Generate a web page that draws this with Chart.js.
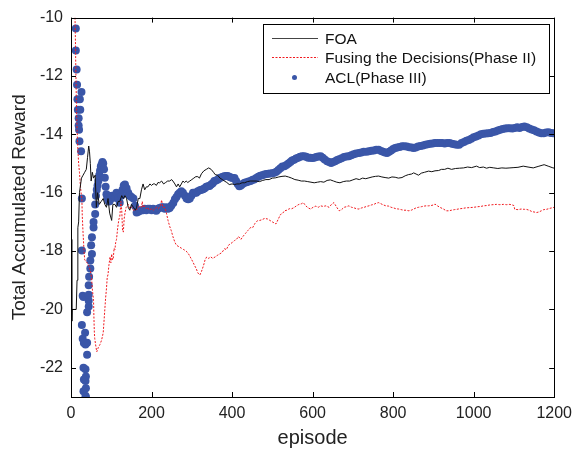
<!DOCTYPE html>
<html>
<head>
<meta charset="utf-8">
<script src="https://cdn.jsdelivr.net/npm/chart.js@4.4.0/dist/chart.umd.min.js"></script>
<style>
  html, body { margin: 0; padding: 0; background: #fff; }
</style>
</head>
<body>
<canvas id="chart" width="579" height="454"></canvas>
<script>
// --- data ---
const seriesLabels = ['FOA', 'Fusing the Decisions(Phase II)', 'ACL(Phase III)'];
const xTicks = [0, 200, 400, 600, 800, 1000, 1200];
const yTicks = [-22, -20, -18, -16, -14, -12, -10];

const foaEpisodes = [1, 2, 3, 8, 13, 15, 17, 19, 21, 23, 26, 30, 34, 38, 41, 44, 46, 48, 50, 53, 56, 60, 63, 66, 70, 75, 80, 84, 88, 92, 96, 101, 104, 109, 113, 117, 121, 126, 130, 134, 138, 142, 146, 150, 155, 160, 163, 167, 171, 175, 179, 183, 187, 191, 196, 200, 204, 208, 212, 216, 220, 225, 230, 235, 240, 245, 250, 253, 258, 262, 266, 270, 274, 278, 282, 286, 290, 295, 300, 305, 310, 315, 319, 324, 330, 336, 342, 348, 354, 358, 364, 370, 376, 381, 387, 393, 400, 406, 412, 418, 425, 431, 438, 445, 452, 460, 468, 476, 484, 492, 500, 508, 516, 524, 532, 540, 548, 556, 564, 572, 580, 588, 596, 604, 612, 620, 628, 636, 644, 652, 660, 668, 676, 684, 692, 700, 708, 716, 724, 732, 740, 748, 756, 764, 772, 780, 789, 797, 805, 813, 822, 830, 838, 846, 851, 857, 863, 870, 878, 888, 896, 904, 913, 920, 928, 936, 945, 955, 965, 975, 985, 995, 1007, 1015, 1024, 1032, 1040, 1050, 1060, 1070, 1080, 1090, 1100, 1110, 1123, 1135, 1148, 1160, 1170, 1175, 1185, 1195, 1200];
const foaValues = [-17.6, -20.4, -20.0, -20.0, -20.0, -19.0, -17.2, -17.0, -16.0, -15.8, -15.5, -15.4, -15.3, -15.2, -14.8, -14.4, -14.6, -15.0, -15.6, -15.3, -15.5, -15.4, -16.5, -16.0, -16.4, -16.3, -16.2, -16.4, -16.5, -16.2, -16.7, -16.95, -16.4, -16.4, -16.5, -16.3, -16.3, -16.1, -16.2, -16.1, -16.2, -16.5, -16.6, -16.4, -16.5, -16.6, -16.5, -16.2, -16.2, -15.9, -15.7, -15.9, -15.8, -15.8, -15.7, -15.75, -15.7, -15.7, -15.75, -15.65, -15.66, -15.6, -15.7, -15.65, -15.6, -15.6, -15.55, -15.6, -15.7, -15.8, -15.7, -15.8, -15.7, -15.6, -15.65, -15.6, -15.65, -15.6, -15.55, -15.5, -15.45, -15.45, -15.5, -15.35, -15.25, -15.2, -15.15, -15.2, -15.3, -15.38, -15.4, -15.5, -15.55, -15.6, -15.65, -15.72, -15.7, -15.72, -15.7, -15.7, -15.66, -15.66, -15.62, -15.6, -15.6, -15.6, -15.62, -15.58, -15.55, -15.55, -15.5, -15.49, -15.46, -15.44, -15.43, -15.46, -15.5, -15.55, -15.57, -15.6, -15.6, -15.62, -15.64, -15.66, -15.64, -15.62, -15.64, -15.58, -15.56, -15.6, -15.64, -15.66, -15.62, -15.6, -15.6, -15.56, -15.52, -15.55, -15.5, -15.52, -15.49, -15.46, -15.44, -15.43, -15.46, -15.48, -15.5, -15.46, -15.47, -15.5, -15.48, -15.42, -15.38, -15.36, -15.32, -15.36, -15.4, -15.33, -15.3, -15.26, -15.28, -15.25, -15.24, -15.2, -15.2, -15.16, -15.2, -15.17, -15.16, -15.15, -15.12, -15.14, -15.09, -15.14, -15.12, -15.16, -15.13, -15.15, -15.17, -15.15, -15.16, -15.15, -15.14, -15.13, -15.09, -15.12, -15.15, -15.1, -15.06, -15.04, -15.09, -15.14, -15.16];

const fusingEpisodes = [10, 11, 12, 13, 14, 15, 16, 17, 19, 21, 23, 25, 27, 28, 30, 32, 34, 37, 40, 44, 48, 51, 53, 56, 57, 58, 59, 61, 64, 68, 72, 76, 80, 84, 86, 88, 90, 92, 94, 97, 99, 101, 103, 105, 107, 109, 111, 113, 116, 119, 121, 124, 126, 128, 130, 132, 134, 137, 140, 142, 146, 150, 155, 160, 165, 170, 175, 177, 179, 182, 187, 190, 195, 200, 204, 208, 212, 216, 220, 223, 225, 228, 233, 237, 241, 245, 249, 253, 258, 262, 268, 274, 280, 286, 292, 298, 303, 307, 311, 315, 320, 324, 329, 333, 337, 342, 347, 352, 358, 363, 369, 375, 381, 386, 391, 396, 401, 406, 411, 416, 422, 427, 433, 439, 445, 451, 457, 463, 469, 475, 481, 488, 494, 500, 509, 515, 520, 526, 530, 536, 542, 548, 554, 560, 566, 572, 577, 583, 589, 595, 601, 608, 614, 620, 626, 633, 641, 647, 653, 660, 666, 672, 678, 684, 690, 697, 703, 709, 715, 722, 728, 734, 740, 746, 752, 758, 764, 770, 776, 782, 789, 795, 801, 807, 814, 820, 826, 832, 839, 845, 851, 857, 863, 870, 876, 882, 888, 894, 900, 904, 910, 916, 925, 932, 938, 945, 952, 958, 965, 972, 980, 991, 1000, 1010, 1018, 1024, 1032, 1040, 1048, 1057, 1065, 1074, 1082, 1090, 1096, 1100, 1102, 1110, 1118, 1126, 1131, 1138, 1145, 1150, 1156, 1162, 1168, 1174, 1181, 1188, 1194, 1200];
const fusingValues = [-10.0, -10.8, -11.8, -12.6, -13.3, -13.8, -14.2, -14.5, -15.0, -15.3, -15.7, -16.0, -16.2, -16.8, -17.4, -17.9, -18.3, -18.35, -18.4, -18.5, -18.66, -18.9, -19.3, -19.7, -20.3, -20.8, -21.0, -21.2, -21.45, -21.3, -21.2, -21.05, -20.8, -20.0, -19.6, -19.3, -18.9, -18.8, -18.5, -18.2, -18.4, -18.1, -18.3, -18.25, -17.9, -17.95, -17.7, -17.6, -17.2, -16.9, -16.85, -16.3, -16.6, -17.3, -17.35, -16.9, -16.7, -16.5, -16.45, -16.4, -16.55, -16.5, -16.6, -16.6, -16.55, -16.45, -16.5, -16.3, -16.5, -16.45, -16.55, -16.5, -16.6, -16.55, -16.6, -16.55, -16.5, -16.55, -16.5, -16.4, -16.25, -16.5, -16.5, -16.7, -16.95, -17.15, -17.3, -17.5, -17.7, -17.8, -17.85, -17.9, -17.95, -18.0, -18.1, -18.25, -18.38, -18.5, -18.6, -18.75, -18.82, -18.7, -18.5, -18.3, -18.2, -18.25, -18.2, -18.25, -18.2, -18.15, -18.1, -18.05, -17.92, -17.95, -17.8, -17.75, -17.7, -17.64, -17.6, -17.5, -17.6, -17.5, -17.4, -17.3, -17.2, -17.2, -17.05, -16.96, -16.95, -16.92, -16.88, -16.9, -16.95, -17.0, -17.07, -16.9, -16.75, -16.7, -16.62, -16.6, -16.55, -16.55, -16.51, -16.45, -16.4, -16.38, -16.34, -16.45, -16.52, -16.56, -16.5, -16.46, -16.5, -16.45, -16.47, -16.45, -16.5, -16.4, -16.34, -16.5, -16.62, -16.58, -16.5, -16.48, -16.45, -16.5, -16.52, -16.55, -16.56, -16.52, -16.5, -16.47, -16.45, -16.42, -16.4, -16.36, -16.34, -16.38, -16.42, -16.45, -16.46, -16.5, -16.52, -16.55, -16.56, -16.58, -16.6, -16.6, -16.62, -16.6, -16.56, -16.52, -16.5, -16.48, -16.46, -16.45, -16.45, -16.44, -16.42, -16.39, -16.45, -16.5, -16.56, -16.62, -16.62, -16.6, -16.58, -16.57, -16.55, -16.54, -16.52, -16.51, -16.5, -16.48, -16.47, -16.45, -16.44, -16.42, -16.41, -16.4, -16.41, -16.4, -16.41, -16.4, -16.42, -16.44, -16.57, -16.58, -16.56, -16.57, -16.57, -16.6, -16.65, -16.66, -16.68, -16.66, -16.62, -16.58, -16.57, -16.54, -16.52, -16.5];

const aclEpisodes = [12, 12, 14, 15, 16, 17, 19, 19, 20, 21, 22, 23, 25, 26, 27, 27, 29, 29, 31, 27, 35, 40, 36, 40, 36, 31, 36, 31, 36, 32, 37, 37, 32, 37, 40, 44, 44, 44, 44, 45, 48, 48, 52, 50, 52, 56, 56, 60, 60, 62, 64, 66, 68, 70, 72, 74, 76, 78, 80, 82, 84, 86, 88, 90, 92, 94, 96, 99, 102, 105, 109, 113, 117, 121, 125, 128, 131, 134, 138, 142, 146, 150, 155, 159, 163, 167, 171, 175, 179, 183, 187, 191, 196, 200, 204, 208, 212, 216, 220, 225, 229, 233, 237, 241, 245, 249, 254, 258, 262, 266, 270, 274, 278, 283, 287, 291, 295, 299, 303, 307, 311, 315, 320, 324, 328, 332, 336, 340, 344, 348, 352, 356, 360, 365, 369, 373, 377, 381, 385, 389, 393, 397, 401, 406, 410, 414, 418, 422, 426, 431, 436, 441, 446, 451, 455, 460, 465, 470, 475, 480, 485, 490, 495, 500, 505, 510, 515, 520, 525, 530, 535, 540, 545, 549, 554, 559, 564, 569, 574, 579, 584, 589, 594, 599, 604, 609, 614, 620, 625, 630, 636, 641, 646, 651, 656, 661, 666, 672, 678, 684, 690, 696, 702, 708, 715, 721, 727, 734, 740, 746, 752, 758, 764, 770, 775, 780, 785, 790, 795, 800, 805, 810, 816, 822, 828, 834, 840, 846, 851, 856, 862, 868, 874, 880, 886, 892, 898, 904, 910, 916, 922, 928, 934, 940, 946, 952, 958, 964, 970, 976, 982, 988, 994, 1000, 1006, 1012, 1018, 1024, 1030, 1036, 1042, 1048, 1054, 1060, 1066, 1072, 1078, 1084, 1090, 1096, 1102, 1108, 1114, 1120, 1126, 1132, 1138, 1144, 1150, 1156, 1162, 1168, 1174, 1180, 1186, 1192, 1198];
const aclValues = [-10.37, -11.13, -11.78, -12.3, -12.8, -13.16, -13.45, -13.7, -13.84, -14.24, -12.8, -13.16, -14.58, -12.55, -16.2, -17.98, -19.53, -21.0, -19.57, -20.53, -20.8, -21.14, -21.2, -21.55, -22.05, -22.0, -22.45, -22.8, -22.96, -21.15, -22.3, -22.7, -22.4, -23.0, -20.1, -19.9, -19.7, -19.5, -19.17, -18.88, -18.6, -18.32, -18.1, -17.8, -17.53, -17.19, -17.0, -16.73, -16.4, -16.1, -15.9, -15.75, -15.6, -15.4, -15.25, -15.1, -15.03, -14.95, -15.0, -15.2, -15.49, -15.8, -16.05, -16.15, -16.25, -16.3, -16.28, -16.2, -16.1, -16.15, -16.17, -16.0, -16.2, -16.34, -16.1, -15.9, -15.75, -15.72, -15.85, -16.0, -16.1, -16.15, -16.2, -16.45, -16.68, -16.65, -16.62, -16.6, -16.6, -16.55, -16.6, -16.55, -16.55, -16.6, -16.55, -16.6, -16.62, -16.55, -16.52, -16.5, -16.5, -16.55, -16.5, -16.55, -16.52, -16.45, -16.35, -16.22, -16.15, -16.05, -16.0, -15.95, -16.0, -16.1, -16.2, -16.22, -16.2, -16.1, -16.0, -16.0, -16.0, -15.95, -15.92, -15.9, -15.88, -15.85, -15.8, -15.78, -15.77, -15.72, -15.68, -15.6, -15.58, -15.55, -15.5, -15.48, -15.45, -15.44, -15.43, -15.43, -15.45, -15.48, -15.5, -15.5, -15.6, -15.7, -15.78, -15.75, -15.7, -15.66, -15.64, -15.62, -15.6, -15.56, -15.55, -15.5, -15.45, -15.42, -15.4, -15.38, -15.36, -15.35, -15.34, -15.33, -15.32, -15.28, -15.22, -15.16, -15.1, -15.09, -15.05, -15.0, -14.95, -14.9, -14.87, -14.83, -14.8, -14.77, -14.75, -14.75, -14.77, -14.8, -14.8, -14.81, -14.8, -14.78, -14.76, -14.75, -14.8, -14.86, -14.92, -14.95, -14.98, -14.95, -14.92, -14.88, -14.85, -14.82, -14.78, -14.76, -14.75, -14.72, -14.68, -14.66, -14.64, -14.62, -14.6, -14.6, -14.58, -14.56, -14.55, -14.53, -14.53, -14.57, -14.6, -14.62, -14.64, -14.6, -14.55, -14.5, -14.47, -14.45, -14.43, -14.41, -14.41, -14.42, -14.44, -14.45, -14.47, -14.45, -14.42, -14.4, -14.38, -14.36, -14.34, -14.32, -14.31, -14.3, -14.3, -14.3, -14.3, -14.31, -14.3, -14.3, -14.32, -14.34, -14.36, -14.36, -14.3, -14.26, -14.22, -14.19, -14.15, -14.1, -14.07, -14.04, -14.0, -13.98, -13.97, -13.96, -13.95, -13.92, -13.9, -13.87, -13.84, -13.82, -13.8, -13.79, -13.79, -13.8, -13.78, -13.76, -13.78, -13.75, -13.73, -13.76, -13.8, -13.83, -13.86, -13.9, -13.94, -13.96, -13.96, -13.94, -13.93, -13.95, -13.96];

const toPoints = (xs, ys) => xs.map((x, i) => ({ x: x, y: ys[i] }));

const FONT = '"Liberation Sans", Arial, Helvetica, sans-serif';
const colors = { foa: '#111111', fusing: '#f0191e', acl: '#3a56a8' };

// box, inward ticks and legend, MATLAB style
const frameAndLegend = {
    id: 'frameAndLegend',
    afterDraw(chart) {
        const ctx = chart.ctx;
        const a = chart.chartArea;
        const xs = chart.scales.x;
        const ys = chart.scales.y;
        ctx.save();
        ctx.strokeStyle = '#000';
        ctx.lineWidth = 1;
        ctx.strokeRect(Math.round(a.left) + 0.5, Math.round(a.top) + 0.5,
            Math.round(a.right - a.left), Math.round(a.bottom - a.top));
        ctx.beginPath();
        xTicks.forEach(v => {
            const px = Math.round(xs.getPixelForValue(v)) + 0.5;
            ctx.moveTo(px, a.bottom); ctx.lineTo(px, a.bottom - 5);
            ctx.moveTo(px, a.top); ctx.lineTo(px, a.top + 5);
        });
        yTicks.forEach(v => {
            const py = Math.round(ys.getPixelForValue(v)) + 0.5;
            ctx.moveTo(a.left, py); ctx.lineTo(a.left + 5, py);
            ctx.moveTo(a.right, py); ctx.lineTo(a.right - 5, py);
        });
        ctx.stroke();

        // legend
        const lx = 263, ly = 24, lw = 286, lh = 69;
        ctx.fillStyle = '#fff';
        ctx.fillRect(lx, ly, lw, lh);
        ctx.strokeRect(lx + 0.5, ly + 0.5, lw, lh);
        const rows = [38, 57, 77];
        ctx.font = '15.5px ' + FONT;
        ctx.textBaseline = 'middle';
        ctx.fillStyle = '#111';
        seriesLabels.forEach((label, i) => {
            const y = rows[i] + 0.5;
            if (i === 0) {
                ctx.strokeStyle = '#444';
                ctx.setLineDash([]);
                ctx.beginPath(); ctx.moveTo(272, y); ctx.lineTo(318, y); ctx.stroke();
            } else if (i === 1) {
                ctx.strokeStyle = colors.fusing;
                ctx.setLineDash([2, 1.5]);
                ctx.beginPath(); ctx.moveTo(272, y); ctx.lineTo(318, y); ctx.stroke();
                ctx.setLineDash([]);
            } else {
                ctx.fillStyle = colors.acl;
                ctx.beginPath(); ctx.arc(294.5, y, 2.5, 0, Math.PI * 2); ctx.fill();
                ctx.fillStyle = '#111';
            }
            ctx.fillText(label, 325, y + 1);
        });
        ctx.restore();
    }
};

new Chart(document.getElementById('chart'), {
    type: 'scatter',
    data: {
        datasets: [
            {
                label: seriesLabels[0],
                data: toPoints(foaEpisodes, foaValues),
                showLine: true,
                borderColor: colors.foa,
                borderWidth: 1,
                pointRadius: 0,
                clip: 0
            },
            {
                label: seriesLabels[1],
                data: toPoints(fusingEpisodes, fusingValues),
                showLine: true,
                borderColor: colors.fusing,
                borderWidth: 1,
                borderDash: [2, 1.5],
                pointRadius: 0,
                clip: 0
            },
            {
                label: seriesLabels[2],
                data: toPoints(aclEpisodes, aclValues),
                showLine: false,
                backgroundColor: colors.acl,
                borderWidth: 0,
                pointRadius: 4,
                clip: 0
            }
        ]
    },
    options: {
        responsive: false,
        animation: false,
        events: [],
        layout: { padding: { top: 15, right: 22, left: 0, bottom: 0 } },
        plugins: {
            legend: { display: false },
            tooltip: { enabled: false }
        },
        scales: {
            x: {
                type: 'linear',
                min: 0,
                max: 1200,
                afterBuildTicks: s => { s.ticks = xTicks.map(v => ({ value: v })); },
                afterFit: s => { s.height = 57; },
                grid: { display: false, drawTicks: false },
                border: { display: false },
                ticks: { color: '#222', padding: 7, font: { family: FONT, size: 16 }, callback: v => String(v) },
                title: { display: true, text: 'episode', color: '#222', padding: { top: 0, bottom: 4 }, font: { family: FONT, size: 20 } }
            },
            y: {
                type: 'linear',
                min: -23,
                max: -10,
                afterBuildTicks: s => { s.ticks = yTicks.map(v => ({ value: v })); },
                afterFit: s => { s.width = 71; },
                grid: { display: false, drawTicks: false },
                border: { display: false },
                ticks: { color: '#222', padding: 8, font: { family: FONT, size: 16 } },
                title: { display: true, text: 'Total Accumulated Reward', color: '#222', padding: { top: 8, bottom: 0 }, font: { family: FONT, size: 19 } }
            }
        }
    },
    plugins: [frameAndLegend]
});
</script>
</body>
</html>
